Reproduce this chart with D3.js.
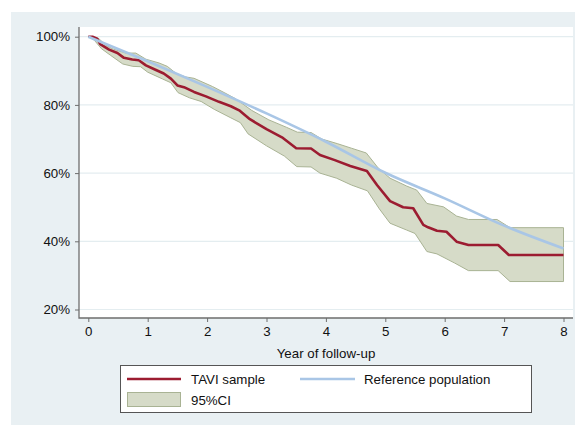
<!DOCTYPE html>
<html>
<head>
<meta charset="utf-8">
<script src="https://cdn.jsdelivr.net/npm/d3@7"></script>
<style>
  html, body { margin: 0; padding: 0; background: #fff; }
  svg { display: block; font-family: "Liberation Sans", Arial, Helvetica, sans-serif; }
</style>
</head>
<body>
<svg id="chart" width="575" height="425"></svg>
<script>
// Kaplan-Meier estimate for the TAVI sample (years, % survival)
const kmYears = [0, 0.07, 0.15, 0.2, 0.35, 0.49, 0.6, 0.74, 0.85, 0.97, 1.13, 1.27, 1.39, 1.5, 1.61, 1.78, 1.98, 2.2, 2.4, 2.54, 2.72, 3.0, 3.26, 3.5, 3.75, 3.9, 4.15, 4.41, 4.69, 4.86, 5.08, 5.3, 5.47, 5.64, 5.72, 5.87, 6.03, 6.2, 6.4, 6.9, 7.08, 8.0];
const kmSurv = [100, 100, 99.4, 97.8, 96.2, 95.2, 93.8, 93.3, 93.1, 91.6, 90.3, 89.2, 87.7, 85.7, 85.2, 83.8, 82.5, 80.9, 79.6, 78.4, 75.8, 72.9, 70.5, 67.3, 67.2, 65.3, 63.8, 62.1, 60.6, 56.5, 51.8, 50.0, 49.7, 44.8, 44.1, 43.1, 42.8, 39.9, 38.9, 38.9, 36.0, 36.0];

// 95% confidence band
const upperYears = [0, 0.18, 0.28, 0.4, 0.63, 0.8, 0.97, 1.19, 1.33, 1.48, 1.64, 1.78, 2.09, 2.3, 2.47, 2.75, 3.04, 3.34, 3.52, 3.75, 3.93, 4.2, 4.43, 4.68, 4.88, 5.08, 5.36, 5.53, 5.7, 5.98, 6.2, 6.4, 6.88, 7.1, 8.0];
const upperSurv = [100, 99.4, 97.7, 96.5, 95.2, 95.2, 93.4, 92.3, 91.3, 89.2, 88.2, 87.8, 85.4, 83.5, 81.9, 78.4, 75.6, 73.4, 72.0, 71.9, 70.0, 68.6, 67.3, 65.9, 61.5, 58.5, 56.2, 55.0, 51.1, 50.1, 47.4, 46.4, 46.4, 44.0, 44.0];
const lowerYears = [0, 0.1, 0.22, 0.37, 0.58, 0.75, 0.88, 1.0, 1.25, 1.39, 1.51, 1.7, 1.9, 2.12, 2.4, 2.56, 2.69, 3.0, 3.3, 3.51, 3.75, 3.9, 4.18, 4.43, 4.7, 4.9, 5.08, 5.36, 5.5, 5.7, 5.87, 6.17, 6.4, 6.9, 7.1, 8.0];
const lowerSurv = [100, 99.0, 96.5, 94.6, 92.0, 91.3, 91.2, 89.6, 87.6, 86.5, 83.6, 82.1, 81.0, 78.7, 76.2, 74.8, 71.5, 68.0, 65.0, 61.9, 61.8, 60.0, 58.5, 56.5, 54.8, 49.5, 45.3, 43.3, 42.3, 37.0, 36.3, 33.6, 31.4, 31.4, 28.2, 28.2];

// expected survival of the matched reference population
const refYears = [0, 1, 2, 3, 4, 5, 6, 7, 8];
const refSurv = [100, 92.8, 85.3, 77.5, 69.2, 60.1, 52.6, 44.6, 37.9];

const yTicks = [20, 40, 60, 80, 100];
const xTicks = [0, 1, 2, 3, 4, 5, 6, 7, 8];

const colors = {
	tavi: "#9c1c31",
	ref: "#a9c6e6",
	band: "#d6dbc8",
	bandEdge: "#a9b394",
	panel: "#e9f0f3",
	grid: "#e4edf0",
	axis: "#6e6e6e"
};

const plot = { left: 79, right: 573, top: 27, bottom: 318 };

const svg = d3.select("#chart");

// outer graph region
svg.append("rect")
	.attr("x", 11).attr("y", 12)
	.attr("width", 575 - 11).attr("height", 425 - 12)
	.attr("fill", colors.panel);

// plot region
svg.append("rect")
	.attr("x", plot.left).attr("y", plot.top)
	.attr("width", plot.right - plot.left).attr("height", plot.bottom - plot.top)
	.attr("fill", "#fff");

const x = d3.scaleLinear().domain([0, 8]).range([88.3, 563.5]);
const y = d3.scaleLinear().domain([20, 100]).range([309.5, 36.7]);

// grid lines
svg.append("g")
	.selectAll("line")
	.data(yTicks)
	.join("line")
	.attr("x1", plot.left).attr("x2", plot.right)
	.attr("y1", d => y(d)).attr("y2", d => y(d))
	.attr("stroke", colors.grid)
	.attr("stroke-width", 1.2);

// confidence band as one closed polygon
const upperPts = upperYears.map((t, i) => [t, upperSurv[i]]);
const lowerPts = lowerYears.map((t, i) => [t, lowerSurv[i]]).reverse();
const poly = d3.line().x(d => x(d[0])).y(d => y(d[1]));

svg.append("path")
	.attr("d", poly(upperPts.concat(lowerPts)) + "Z")
	.attr("fill", colors.band)
	.attr("stroke", colors.bandEdge)
	.attr("stroke-width", 1);

const line = d3.line().x(d => x(d.t)).y(d => y(d.s));

svg.append("path")
	.datum(kmYears.map((t, i) => ({ t: t, s: kmSurv[i] })))
	.attr("d", line)
	.attr("fill", "none")
	.attr("stroke", colors.tavi)
	.attr("stroke-width", 2.6)
	.attr("stroke-linejoin", "round");

svg.append("path")
	.datum(refYears.map((t, i) => ({ t: t, s: refSurv[i] })))
	.attr("d", line.curve(d3.curveMonotoneX))
	.attr("fill", "none")
	.attr("stroke", colors.ref)
	.attr("stroke-width", 2.6);

// axes
let yAxis = g => g
	.attr("transform", "translate(" + plot.left + ",0)")
	.call(d3.axisLeft(y).tickValues(yTicks).tickSize(4).tickPadding(5).tickFormat(d => d + "%"));

let xAxis = g => g
	.attr("transform", "translate(0," + plot.bottom + ")")
	.call(d3.axisBottom(x).tickValues(xTicks).tickSize(4).tickPadding(5));

[svg.append("g").call(yAxis), svg.append("g").call(xAxis)].forEach(g => {
	g.select(".domain").remove();
	g.selectAll(".tick line").attr("stroke", colors.axis);
	g.selectAll(".tick text").attr("fill", "#111").style("font-size", "13.3px")
		.style("font-family", "'Liberation Sans', Arial, sans-serif");
});

svg.append("path")
	.attr("d", "M" + plot.left + "," + plot.top + "V" + plot.bottom + "H" + plot.right)
	.attr("fill", "none")
	.attr("stroke", colors.axis)
	.attr("stroke-width", 1.3);

svg.append("text")
	.attr("x", (plot.left + plot.right) / 2)
	.attr("y", 358)
	.attr("text-anchor", "middle")
	.style("font-size", "13.3px")
	.attr("fill", "#111")
	.text("Year of follow-up");

// legend
const legend = svg.append("g");
legend.append("rect")
	.attr("x", 120.5).attr("y", 365.5)
	.attr("width", 411).attr("height", 47)
	.attr("fill", "#fff")
	.attr("stroke", "#555")
	.attr("stroke-width", 1);

legend.append("line")
	.attr("x1", 127).attr("x2", 181).attr("y1", 379).attr("y2", 379)
	.attr("stroke", colors.tavi).attr("stroke-width", 2.6);
legend.append("line")
	.attr("x1", 300).attr("x2", 355).attr("y1", 379).attr("y2", 379)
	.attr("stroke", colors.ref).attr("stroke-width", 2.6);
legend.append("rect")
	.attr("x", 127.5).attr("y", 392.5).attr("width", 53).attr("height", 14)
	.attr("fill", colors.band).attr("stroke", colors.bandEdge);

const legendText = [
	{ label: "TAVI sample", x: 191, y: 384 },
	{ label: "Reference population", x: 364, y: 384 },
	{ label: "95%CI", x: 191, y: 404.5 }
];
legend.selectAll("text.lbl")
	.data(legendText)
	.join("text")
	.attr("class", "lbl")
	.attr("x", d => d.x).attr("y", d => d.y)
	.style("font-size", "13.3px")
	.attr("fill", "#111")
	.text(d => d.label);
</script>
</body>
</html>
